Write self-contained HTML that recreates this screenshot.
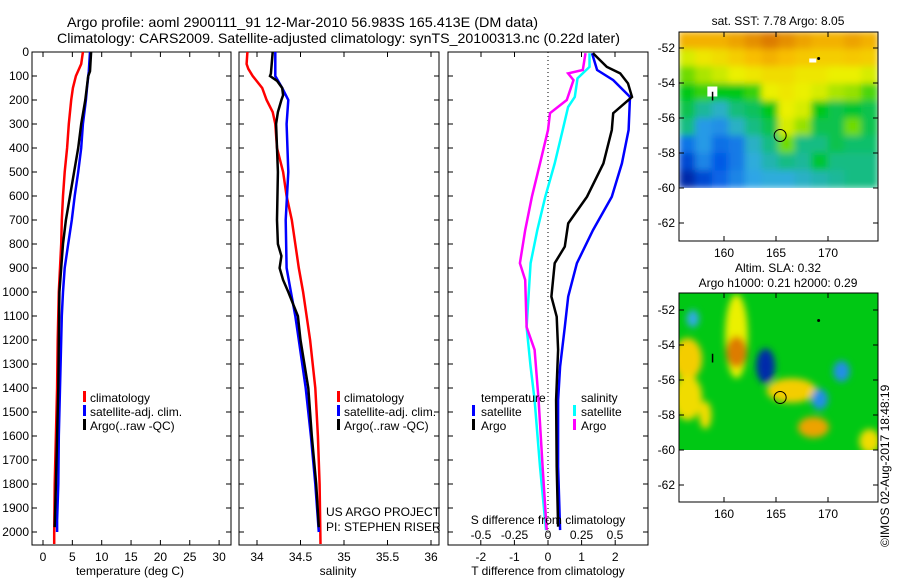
<!DOCTYPE html>
<html><head><meta charset="utf-8"><style>
html,body{margin:0;padding:0;background:#fff;}
svg{display:block;font-family:"Liberation Sans",sans-serif;}
text{fill:#000;}
</style></head><body>
<svg id="chart" width="900" height="580" viewBox="0 0 900 580" xmlns="http://www.w3.org/2000/svg">
<defs>
<filter id="blur" x="-5%" y="-5%" width="110%" height="110%"><feGaussianBlur stdDeviation="3.5"/></filter>
<clipPath id="clipTop"><rect x="679" y="32" width="199" height="156"/></clipPath>
<clipPath id="clipBot"><rect x="679" y="293" width="199" height="157"/></clipPath>
</defs>
<g>
<text x="67" y="27" font-size="14" textLength="471" lengthAdjust="spacingAndGlyphs">Argo profile: aoml 2900111_91 12-Mar-2010 56.983S 165.413E (DM data)</text>
<text x="57" y="43" font-size="14" textLength="563" lengthAdjust="spacingAndGlyphs">Climatology: CARS2009. Satellite-adjusted climatology: synTS_20100313.nc (0.22d later)</text>
</g>
<g id="plots"></g>
<g font-size="12">
<rect x="83" y="391" width="3" height="11" fill="#f00"/><text x="90" y="402">climatology</text>
<rect x="83" y="405" width="3" height="11" fill="#00f"/><text x="90" y="416">satellite-adj. clim.</text>
<rect x="83" y="419" width="3" height="11" fill="#000"/><text x="90" y="430">Argo(..raw -QC)</text>
</g>
<g font-size="12">
<rect x="337" y="391" width="3" height="11" fill="#f00"/><text x="344" y="402">climatology</text>
<rect x="337" y="405" width="3" height="11" fill="#00f"/><text x="344" y="416">satellite-adj. clim.</text>
<rect x="337" y="419" width="3" height="11" fill="#000"/><text x="344" y="430">Argo(..raw -QC)</text>
</g>
<g font-size="12">
<text x="326" y="516">US ARGO PROJECT</text>
<text x="326" y="531">PI: STEPHEN RISER</text>
</g>
<g font-size="12">
<text x="481" y="402">temperature</text>
<rect x="472" y="405" width="3" height="11" fill="#00f"/><text x="481" y="416">satellite</text>
<rect x="472" y="419" width="3" height="11" fill="#000"/><text x="481" y="430">Argo</text>
<text x="581" y="402">salinity</text>
<rect x="573" y="405" width="3" height="11" fill="#0ff"/><text x="581" y="416">satellite</text>
<rect x="573" y="419" width="3" height="11" fill="#f0f"/><text x="581" y="430">Argo</text>
</g>
<text x="548" y="524" font-size="12" text-anchor="middle">S difference from climatology</text>
<text x="548" y="575" font-size="12" text-anchor="middle">T difference from climatology</text>
<text x="130" y="575" font-size="12" text-anchor="middle">temperature (deg C)</text>
<text x="338" y="575" font-size="12" text-anchor="middle">salinity</text>
<text x="778" y="25" font-size="12" text-anchor="middle">sat. SST: 7.78 Argo: 8.05</text>
<text x="778" y="272" font-size="12" text-anchor="middle">Altim. SLA: 0.32</text>
<text x="778" y="287" font-size="12" text-anchor="middle">Argo h1000: 0.21 h2000: 0.29</text>
<text transform="translate(889,547) rotate(-90)" font-size="12">©IMOS 02-Aug-2017 18:48:19</text>
</svg>
<script>
// ---------- data ----------
const tempDepth = [0,50,100,150,200,300,400,500,600,700,800,900,1000,1200,1400,1600,1800,2000,2050];
const tempClim  = [6.8,6.5,5.6,5.1,4.8,4.4,4.1,3.7,3.4,3.2,3.1,2.9,2.7,2.5,2.4,2.2,2.0,1.9,1.9];
const tempSatDepth = [0,80,150,200,300,400,500,600,700,800,900,1000,1100,1200,1400,1600,1800,1950,2000];
const tempSat   = [8.0,7.8,7.5,7.3,6.8,6.5,6.0,5.4,4.9,4.3,3.7,3.4,3.2,3.1,2.9,2.7,2.6,2.4,2.4];
const tempArgoDepth = [0,80,100,200,300,400,500,600,700,800,900,1000,1200,1400,1600,1800,1980];
const tempArgo  = [8.2,8.0,7.7,7.2,6.5,6.0,5.3,4.6,3.9,3.4,3.1,2.8,2.7,2.6,2.4,2.2,2.0];

const salClimDepth = [0,50,70,100,150,200,250,300,400,500,600,700,800,900,1000,1200,1400,1600,1800,2050];
const salClim = [33.89,33.88,33.9,33.95,34.06,34.11,34.18,34.21,34.23,34.30,34.34,34.40,34.44,34.48,34.53,34.61,34.67,34.70,34.72,34.73];
const salSatDepth = [0,100,150,200,300,500,700,900,1000,1100,1200,1400,1600,1800,2000];
const salSat = [34.21,34.21,34.29,34.36,34.34,34.36,34.33,34.34,34.39,34.44,34.48,34.56,34.62,34.67,34.71];
const salArgoDepth = [0,90,100,120,150,180,200,250,300,500,700,800,850,900,950,1000,1100,1200,1400,1600,1800,1980];
const salArgo = [34.18,34.16,34.15,34.23,34.29,34.30,34.28,34.24,34.22,34.24,34.23,34.24,34.28,34.26,34.30,34.36,34.47,34.50,34.59,34.63,34.68,34.71];

const dTSatDepth = [5,75,117,187,325,464,603,742,880,1019,1146,1311,1450,1728,1992];
const dTSat = [1.31,1.46,1.94,2.44,2.4,2.2,1.9,1.34,0.86,0.6,0.5,0.36,0.3,0.3,0.36];
const dTArgoDepth = [5,62,89,131,187,255,325,464,603,714,811,880,1019,1103,1241,1450,1728,1978];
const dTArgo = [1.34,1.75,2.15,2.38,2.5,1.94,1.9,1.65,1.16,0.6,0.5,0.2,0.1,0.26,0.3,0.24,0.26,0.3];
const dSSatDepth = [5,62,110,187,229,325,464,603,742,880,1146,1311,1450,1728,1992];
const dSSat = [0.31,0.31,0.22,0.2,0.15,0.11,0.05,-0.02,-0.08,-0.13,-0.16,-0.13,-0.1,-0.06,-0.015];
const dSArgoDepth = [5,75,89,117,200,255,325,464,603,742,880,950,1146,1241,1450,1728,1992];
const dSArgo = [0.28,0.26,0.15,0.19,0.14,0.015,0,-0.06,-0.12,-0.17,-0.21,-0.17,-0.16,-0.1,-0.07,-0.04,-0.01];

const depthTicks = [0,100,200,300,400,500,600,700,800,900,1000,1100,1200,1300,1400,1500,1600,1700,1800,1900,2000];
const tempTicks = [0,5,10,15,20,25,30];
const salTicks = [34,34.5,35,35.5,36];
const salTickLabels = ["34","34.5","35","35.5","36"];
const dTTicks = [-2,-1,0,1,2];
const dSTicks = [-0.5,-0.25,0,0.25,0.5];
const dSTickLabels = ["-0.5","-0.25","0","0.25","0.5"];
const latTicks = [-52,-54,-56,-58,-60,-62];
const lonTicks = [160,165,170];

// SST grid (rows lat -51.5..-59.5, cols lon ~156..174), value 0(blue)..1(orange)
const sstGrid = [
[0.80,0.80,0.80,0.82,0.85,0.88,0.85,0.82,0.80,0.80,0.82,0.80],
[0.66,0.70,0.72,0.75,0.78,0.80,0.78,0.76,0.75,0.75,0.76,0.75],
[0.58,0.62,0.65,0.68,0.70,0.72,0.72,0.70,0.70,0.68,0.68,0.66],
[0.52,0.55,0.52,0.52,0.55,0.68,0.70,0.68,0.66,0.62,0.60,0.56],
[0.48,0.42,0.38,0.45,0.47,0.52,0.68,0.66,0.52,0.48,0.50,0.48],
[0.44,0.32,0.30,0.38,0.44,0.48,0.66,0.60,0.48,0.48,0.58,0.48],
[0.25,0.32,0.24,0.26,0.38,0.44,0.58,0.44,0.44,0.48,0.46,0.46],
[0.15,0.28,0.20,0.26,0.36,0.40,0.44,0.42,0.50,0.44,0.44,0.44],
[0.05,0.15,0.22,0.28,0.34,0.36,0.36,0.38,0.40,0.42,0.44,0.44]];
// SLA anomaly blobs
const slaLon = [156.5,156.5,161.2,161.2,164.0,166.5,168.6,169.2,171.3,174.0,158.2,157.0];
const slaLat = [-54.8,-57.0,-53.5,-54.4,-55.2,-56.6,-58.7,-57.1,-55.5,-59.5,-58.0,-52.5];
const slaRx  = [1.4,1.4,1.1,1.0,0.9,2.4,1.5,0.8,0.8,1.0,0.6,0.6];
const slaRy  = [1.2,1.3,2.4,0.9,1.0,0.7,0.6,0.6,0.6,0.7,0.8,0.5];
const slaVal = [0.75,0.72,0.68,0.88,0.05,0.75,0.82,0.3,0.3,0.72,0.72,0.35];
const argoLon = 165.4, argoLat = -57.0;

// ---------- helpers ----------
const NS="http://www.w3.org/2000/svg";
const root=document.getElementById('plots');
function el(tag,attrs,parent){const e=document.createElementNS(NS,tag);for(const k in attrs)e.setAttribute(k,attrs[k]);(parent||root).appendChild(e);return e;}
const yD = d => 52 + 0.24*d;
const xT = t => 43 + 5.87*t;
const xS = s => 257 + 87*(s-34);
const xdT = v => 548 + 33.6*v;
const xdS = v => 548 + 134*v;
const lonX = lo => 724 + 10.4*(lo-160);
const latYt = la => 48 + 17.5*(-52-la);
const latYb = la => 310 + 17.5*(-52-la);

function frame(x0,x1,name){
  const g=el('g',{});
  
  
  el('rect',{x:x0,y:52,width:x1-x0,height:493,fill:'none',stroke:'#000','stroke-width':1},g);
  depthTicks.forEach(d=>{
    el('line',{x1:x0,x2:x0+5,y1:yD(d),y2:yD(d),stroke:'#000'},g);
    el('line',{x1:x1-5,x2:x1,y1:yD(d),y2:yD(d),stroke:'#000'},g);
  });
  return g;
}
function line(xs,ds,xf,color,name,w){
  const pts=xs.map((v,i)=>xf(v).toFixed(1)+','+yD(ds[i]).toFixed(1)).join(' ');
  const p=el('polyline',{points:pts,fill:'none',stroke:color,'stroke-width':w||2.5,'stroke-linejoin':'miter'});
  
  
}

// ---------- panel 1: temperature ----------
const f1=frame(32,231,'temperature-panel');
depthTicks.forEach(d=>{const t=el('text',{x:29,y:yD(d)+4,'font-size':12,'text-anchor':'end'},f1);t.textContent=d;});
tempTicks.forEach(t=>{
  el('line',{x1:xT(t),x2:xT(t),y1:545,y2:540,stroke:'#000'},f1);
  el('line',{x1:xT(t),x2:xT(t),y1:52,y2:57,stroke:'#000'},f1);
  const tx=el('text',{x:xT(t),y:561,'font-size':12,'text-anchor':'middle'},f1);tx.textContent=t;
});
line(tempClim,tempDepth,xT,'#f00','temp-climatology-line');
line(tempSat,tempSatDepth,xT,'#00f','temp-satellite-line');
line(tempArgo,tempArgoDepth,xT,'#000','temp-argo-line');

// ---------- panel 2: salinity ----------
const f2=frame(239,439,'salinity-panel');
salTicks.forEach((s,i)=>{
  el('line',{x1:xS(s),x2:xS(s),y1:545,y2:540,stroke:'#000'},f2);
  el('line',{x1:xS(s),x2:xS(s),y1:52,y2:57,stroke:'#000'},f2);
  const tx=el('text',{x:xS(s),y:561,'font-size':12,'text-anchor':'middle'},f2);tx.textContent=salTickLabels[i];
});
line(salClim,salClimDepth,xS,'#f00','salinity-climatology-line');
line(salSat,salSatDepth,xS,'#00f','salinity-satellite-line');
line(salArgo,salArgoDepth,xS,'#000','salinity-argo-line');

// ---------- panel 3: differences ----------
const f3=frame(448,648,'difference-panel');
el('line',{x1:548,x2:548,y1:52,y2:545,stroke:'#000','stroke-dasharray':'1,3'},f3);
dTTicks.forEach(t=>{
  el('line',{x1:xdT(t),x2:xdT(t),y1:545,y2:540,stroke:'#000'},f3);
  const tx=el('text',{x:xdT(t),y:561,'font-size':12,'text-anchor':'middle'},f3);tx.textContent=t;
});
dSTicks.forEach((s,i)=>{
  if(s!==0) el('line',{x1:xdS(s),x2:xdS(s),y1:52,y2:57,stroke:'#000'},f3);
  const tx=el('text',{x:xdS(s),y:539,'font-size':12,'text-anchor':'middle'},f3);tx.textContent=dSTickLabels[i];
});
line(dSSat,dSSatDepth,xdS,'#0ff','sdiff-satellite-line');
line(dSArgo,dSArgoDepth,xdS,'#f0f','sdiff-argo-line');
line(dTSat,dTSatDepth,xdT,'#00f','tdiff-satellite-line');
line(dTArgo,dTArgoDepth,xdT,'#000','tdiff-argo-line');

// ---------- maps ----------
const cstops=[[0,[0,24,150]],[0.2,[0,90,230]],[0.35,[50,170,230]],[0.45,[20,190,120]],[0.52,[0,200,20]],[0.6,[150,225,0]],[0.68,[235,240,0]],[0.78,[248,190,0]],[0.9,[215,110,0]],[1,[170,60,0]]];
function cmap(v){
  for(let i=1;i<cstops.length;i++){ if(v<=cstops[i][0]){const a=cstops[i-1],b=cstops[i];const f=(v-a[0])/(b[0]-a[0]);const c=a[1].map((x,k)=>Math.round(x+(b[1][k]-x)*f));return 'rgb('+c.join(',')+')';}}
  return 'rgb(170,60,0)';
}
function mapAxes(g,y0,latY){
  el('rect',{x:679,y:y0,width:199,height:209,fill:'none',stroke:'#000'},g);
  latTicks.forEach(la=>{
    const y=latY(la);
    el('line',{x1:679,x2:684,y1:y,y2:y,stroke:'#000'},g);
    el('line',{x1:873,x2:878,y1:y,y2:y,stroke:'#000'},g);
    const t=el('text',{x:675,y:y+4,'font-size':12,'text-anchor':'end'},g);t.textContent=la;
  });
  lonTicks.forEach(lo=>{
    const x=lonX(lo);
    el('line',{x1:x,x2:x,y1:y0,y2:y0+5,stroke:'#000'},g);
    el('line',{x1:x,x2:x,y1:y0+209,y2:y0+204,stroke:'#000'},g);
    const t=el('text',{x:x,y:y0+225,'font-size':12,'text-anchor':'middle'},g);t.textContent=lo;
  });
}
// SST map
const gm1=el('g',{});


const cellsTop=el('g',{'clip-path':'url(#clipTop)'},gm1);
const inner1=el('g',{filter:'url(#blur)'},cellsTop);
const cw=199/12, ch=156/9;
sstGrid.forEach((row,r)=>row.forEach((v,c)=>{
  const cell=el('rect',{x:679+c*cw-0.5,y:32+r*ch-0.5,width:cw+1,height:ch+1,fill:cmap(v)},inner1);
  
  
}));
el('rect',{x:lonX(158.4),y:latYt(-54.2),width:10,height:10,fill:'#fff'},gm1);
el('line',{x1:lonX(158.9),x2:lonX(158.9),y1:latYt(-54.5),y2:latYt(-55.0),stroke:'#000','stroke-width':1.5},gm1);
el('rect',{x:lonX(168.2),y:latYt(-52.6),width:7,height:4,fill:'#fff'},gm1);
el('circle',{cx:lonX(169.1),cy:latYt(-52.6),r:1.5,fill:'#000'},gm1);
const c1=el('circle',{cx:lonX(argoLon),cy:latYt(argoLat),r:6,fill:'none',stroke:'#000','stroke-width':1},gm1);


mapAxes(gm1,32,latYt);

// SLA map
const gm2=el('g',{});


const cellsBot=el('g',{'clip-path':'url(#clipBot)'},gm2);
el('rect',{x:679,y:293,width:199,height:157,fill:cmap(0.52)},cellsBot);
const inner2=el('g',{filter:'url(#blur)'},cellsBot);
slaVal.forEach((v,i)=>{
  const e=el('ellipse',{cx:lonX(slaLon[i]),cy:latYb(slaLat[i]),rx:slaRx[i]*10.4,ry:slaRy[i]*17.5,fill:cmap(v)},inner2);
  
  
});
el('circle',{cx:lonX(169.1),cy:latYb(-52.6),r:1.5,fill:'#000'},gm2);
el('line',{x1:lonX(158.9),x2:lonX(158.9),y1:latYb(-54.5),y2:latYb(-55.0),stroke:'#000','stroke-width':1.5},gm2);
const c2=el('circle',{cx:lonX(argoLon),cy:latYb(argoLat),r:6,fill:'none',stroke:'#000','stroke-width':1},gm2);


mapAxes(gm2,293,latYb);
</script>
</body></html>
